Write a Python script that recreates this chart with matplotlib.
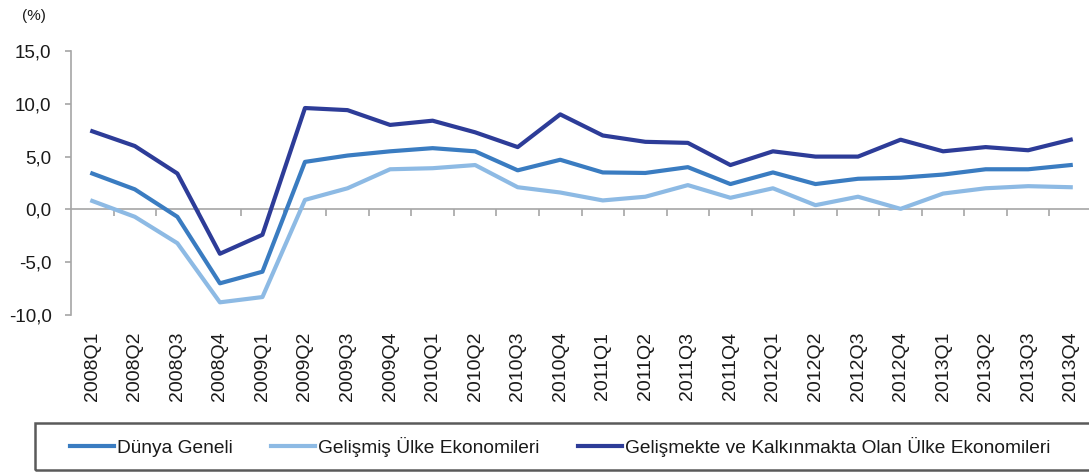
import matplotlib
matplotlib.use("Agg")
import matplotlib.pyplot as plt
from matplotlib.patches import Rectangle

plt.rcParams['font.family'] = ['Liberation Sans', 'DejaVu Sans']

categories = ["2008Q1", "2008Q2", "2008Q3", "2008Q4",
              "2009Q1", "2009Q2", "2009Q3", "2009Q4",
              "2010Q1", "2010Q2", "2010Q3", "2010Q4",
              "2011Q1", "2011Q2", "2011Q3", "2011Q4",
              "2012Q1", "2012Q2", "2012Q3", "2012Q4",
              "2013Q1", "2013Q2", "2013Q3", "2013Q4"]

dunya_geneli = [3.4, 1.9, -0.7, -7.0, -5.9, 4.5, 5.1, 5.5,
                5.8, 5.5, 3.7, 4.7, 3.5, 3.45, 4.0, 2.4,
                3.5, 2.4, 2.9, 3.0, 3.3, 3.8, 3.8, 4.2]

gelismis = [0.8, -0.7, -3.2, -8.8, -8.3, 0.9, 2.0, 3.8,
            3.9, 4.2, 2.1, 1.6, 0.85, 1.2, 2.3, 1.1,
            2.0, 0.4, 1.2, 0.05, 1.5, 2.0, 2.2, 2.1]

gelismekte = [7.4, 6.0, 3.4, -4.2, -2.4, 9.6, 9.4, 8.0,
              8.4, 7.3, 5.9, 9.0, 7.0, 6.4, 6.3, 4.2,
              5.5, 5.0, 5.0, 6.6, 5.5, 5.9, 5.6, 6.6]

series_labels = ["Dünya Geneli", "Gelişmiş Ülke Ekonomileri",
                 "Gelişmekte ve Kalkınmakta Olan Ülke Ekonomileri"]
yticks = [-10, -5, 0, 5, 10, 15]

W, H = 1089, 473
fig = plt.figure(figsize=(W / 100, H / 100), dpi=100)
ax = fig.add_axes([71 / W, (H - 315) / H, 1021 / W, (315 - 51) / H])

c_mid = "#3A7CC1"
c_light = "#8DBAE4"
c_dark = "#2D3C98"
txt = "#1A1A1A"
x = list(range(len(categories)))
ax.plot(x, dunya_geneli, color=c_mid, lw=3, label=series_labels[0], zorder=3)
ax.plot(x, gelismis, color=c_light, lw=3, label=series_labels[1], zorder=3)
ax.plot(x, gelismekte, color=c_dark, lw=3, label=series_labels[2], zorder=3)

ax.set_xlim(-0.5, len(categories) - 0.5)
ax.set_ylim(-10, 15)

for s in ["top", "right", "bottom"]:
    ax.spines[s].set_visible(False)
ax.spines["left"].set_color("#A6A6A6")
ax.spines["left"].set_linewidth(1.2)

ax.set_yticks(yticks)
ax.set_yticklabels([f"{v:.1f}".replace(".", ",") for v in yticks])
ax.tick_params(axis="y", length=4, width=1.2, color="#A6A6A6", pad=10,
               labelsize=13.5, labelcolor=txt)

ax.set_xticks(x)
ax.set_xticklabels(categories, rotation=90, va="top", ha="center")
ax.tick_params(axis="x", length=0, pad=12, labelsize=14, labelcolor=txt)

# zero line with boundary tick marks
sec = ax.secondary_xaxis(10 / 25)
sec.spines["bottom"].set_color("#A6A6A6")
sec.spines["bottom"].set_linewidth(1.2)
sec.set_xticks([i + 0.5 for i in range(len(categories) - 1)])
sec.tick_params(axis="x", length=5, width=1.2, color="#A6A6A6", labelbottom=False)

fig.text(22 / W, (H - 16) / H, "(%)", fontsize=11, color=txt, va="center")

# legend with frame
fig.patches.append(Rectangle((35 / W, (H - 470) / H), 1070 / W, 47 / H,
                             transform=fig.transFigure, fill=False,
                             edgecolor="#5A5A5A", linewidth=1.8))
leg = fig.legend(loc="center left", bbox_to_anchor=(70 / W, (H - 447) / H),
                 ncol=3, frameon=False, fontsize=13.8, handlelength=2.3,
                 handletextpad=0.15, columnspacing=2.0, borderpad=0,
                 borderaxespad=0)
for t in leg.get_texts():
    t.set_color(txt)

fig.savefig("out.png", dpi=100)
